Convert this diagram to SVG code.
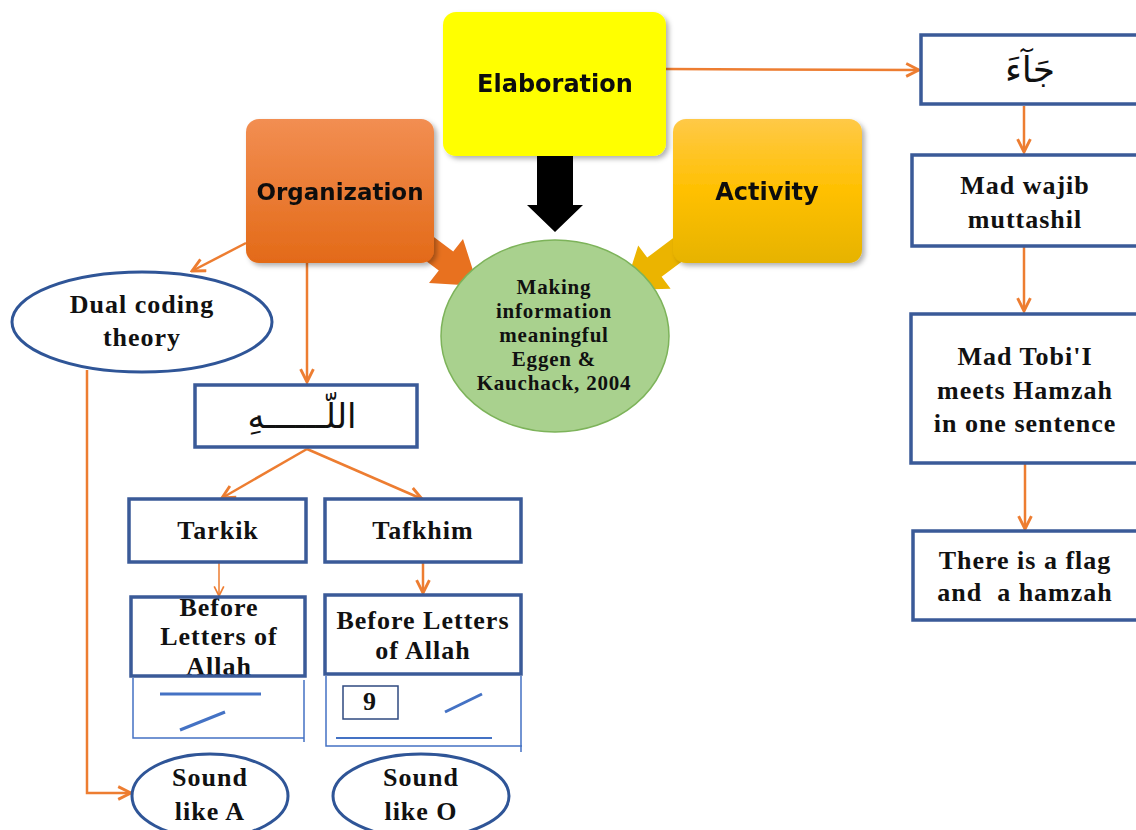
<svg xmlns="http://www.w3.org/2000/svg" width="1136" height="830" viewBox="0 0 1136 830">
<defs>
<style>
.sans{font-family:"DejaVu Sans","Liberation Sans",sans-serif;font-weight:bold;fill:#111;text-anchor:middle}
.ser{font-family:"Liberation Serif","Times New Roman",serif;font-weight:bold;fill:#111;text-anchor:middle;font-size:26px;letter-spacing:1px}
.circ{font-family:"Liberation Serif","Times New Roman",serif;font-weight:bold;fill:#111;text-anchor:middle;font-size:21px;letter-spacing:0.8px}
.ar{font-family:"DejaVu Sans","Noto Sans",sans-serif;fill:#111;text-anchor:middle}
.box{fill:#fff;stroke:#3A5A98;stroke-width:3.5}
.ell{fill:#fff;stroke:#2F5597;stroke-width:3}
.thin{fill:none;stroke:#4472C4;stroke-width:1.5}
.mark{fill:none;stroke:#4472C4;stroke-width:3}
.con{fill:none;stroke:#ED7D31;stroke-width:2.5;marker-end:url(#ah)}
.con2{fill:none;stroke:#ED7D31;stroke-width:1.5;marker-end:url(#ahs)}
</style>
<marker id="ah" viewBox="0 0 10 10" refX="9" refY="5" markerWidth="16" markerHeight="16" markerUnits="userSpaceOnUse" orient="auto">
<path d="M1,1 L9,5 L1,9" fill="none" stroke="#ED7D31" stroke-width="1.8"/>
</marker>
<marker id="ahs" viewBox="0 0 10 10" refX="9" refY="5" markerWidth="12" markerHeight="12" markerUnits="userSpaceOnUse" orient="auto">
<path d="M1,1 L9,5 L1,9" fill="none" stroke="#ED7D31" stroke-width="1.4"/>
</marker>
<linearGradient id="gOrg" x1="0" y1="0" x2="0" y2="1">
<stop offset="0" stop-color="#F28E52"/><stop offset="1" stop-color="#E36A18"/>
</linearGradient>
<linearGradient id="gAct" x1="0" y1="0" x2="0" y2="1">
<stop offset="0" stop-color="#FFC947"/><stop offset="0.5" stop-color="#FFC000"/><stop offset="1" stop-color="#E6B300"/>
</linearGradient>
<filter id="sh" x="-10%" y="-10%" width="130%" height="130%">
<feDropShadow dx="3" dy="3" stdDeviation="2.5" flood-color="#000" flood-opacity="0.3"/>
</filter>
</defs>
<rect width="1136" height="830" fill="#fff"/>

<g id="connectors">
<polygon points="537,156 573,156 573,205 583,205 555,232 527,205 537,205" fill="#000"/>
<polygon points="390.8,234.6 438.8,270.6 429,283 478,286 463,239 453.2,251.4 405.2,215.4" fill="#E8711F"/>
<polygon points="709.6,240.8 661.6,276.8 670.6,288.8 624,290 638.2,245.6 647.2,257.6 695.2,221.6" fill="#EBB400"/>
<line class="con" x1="666" y1="69" x2="919" y2="70"/>
<line class="con" x1="1024" y1="106" x2="1024" y2="152"/>
<line class="con" x1="1024" y1="247" x2="1024" y2="311"/>
<line class="con" x1="1025" y1="464" x2="1025" y2="529"/>
<line class="con" x1="246" y1="243" x2="192" y2="271"/>
<line class="con" x1="307" y1="263" x2="307" y2="382"/>
<line class="con" x1="307" y1="449" x2="222" y2="498"/>
<line class="con" x1="307" y1="449" x2="422" y2="499"/>
<line class="con2" x1="219" y1="563" x2="219" y2="596"/>
<line class="con" x1="423" y1="563" x2="423" y2="593"/>
<polyline class="con" points="87,370 87,793 131,793"/>
</g>

<g id="elaboration" filter="url(#sh)">
<rect x="443" y="12" width="223" height="144" rx="13" fill="#FFFF00"/>
<text class="sans" x="555" y="92" font-size="24">Elaboration</text>
</g>
<g id="organization" filter="url(#sh)">
<rect x="246" y="119" width="188" height="144" rx="13" fill="url(#gOrg)"/>
<text class="sans" x="340" y="200" font-size="23">Organization</text>
</g>
<g id="activity" filter="url(#sh)">
<rect x="673" y="119" width="189" height="144" rx="13" fill="url(#gAct)"/>
<text class="sans" x="767" y="200" font-size="24">Activity</text>
</g>

<g id="meaningful">
<ellipse cx="555" cy="336" rx="114" ry="96" fill="#A9D18E" stroke="#7DB35A" stroke-width="1.5"/>
<text class="circ" x="554" y="294">Making</text>
<text class="circ" x="554" y="318">information</text>
<text class="circ" x="554" y="342">meaningful</text>
<text class="circ" x="554" y="366">Eggen &amp;</text>
<text class="circ" x="554" y="390">Kauchack, 2004</text>
</g>

<g id="jaa">
<rect class="box" x="921" y="35" width="220" height="69"/>
<text class="ar" x="1030" y="82" font-size="36">جَآءَ</text>
</g>
<g id="wajib">
<rect class="box" x="912" y="155" width="229" height="91"/>
<text class="ser" x="1025" y="194">Mad wajib</text>
<text class="ser" x="1025" y="228">muttashil</text>
</g>
<g id="tobii">
<rect class="box" x="911" y="314" width="230" height="149"/>
<text class="ser" x="1025" y="365">Mad Tobi'I</text>
<text class="ser" x="1025" y="399">meets Hamzah</text>
<text class="ser" x="1025" y="432">in one sentence</text>
</g>
<g id="flag">
<rect class="box" x="913" y="531" width="228" height="89"/>
<text class="ser" x="1025" y="569">There is a flag</text>
<text class="ser" x="1025" y="601" xml:space="preserve">and  a hamzah</text>
</g>

<g id="dual">
<ellipse class="ell" cx="142" cy="322" rx="130" ry="50"/>
<text class="ser" x="142" y="313">Dual coding</text>
<text class="ser" x="142" y="346">theory</text>
</g>
<g id="allah">
<rect class="box" x="195" y="385" width="222" height="62"/>
<text class="ar" x="302" y="428" font-size="34">اللّــــــهِ</text>
</g>
<g id="tarkik">
<rect class="box" x="129" y="499" width="177" height="63"/>
<text class="ser" x="218" y="539">Tarkik</text>
</g>
<g id="tafkhim">
<rect class="box" x="325" y="499" width="196" height="63"/>
<text class="ser" x="423" y="539">Tafkhim</text>
</g>
<g id="before-left">
<text class="ser" x="219" y="616" font-size="24">Before</text>
<text class="ser" x="219" y="645" font-size="24">Letters of</text>
<text class="ser" x="219" y="675" font-size="24">Allah</text>
<rect x="131" y="597" width="174" height="79" fill="none" stroke="#3A5A98" stroke-width="3.5"/>
</g>
<g id="marks-left">
<path class="thin" d="M133,678 V738 H304 M304,680 V742"/>
<line class="mark" x1="160" y1="694" x2="261" y2="694"/>
<line class="mark" x1="180" y1="730" x2="225" y2="712"/>
</g>
<g id="before-right">
<rect class="box" x="325" y="595" width="196" height="79"/>
<text class="ser" x="423" y="629" font-size="24">Before Letters</text>
<text class="ser" x="423" y="659" font-size="24">of Allah</text>
</g>
<g id="marks-right">
<path class="thin" d="M326,676 V746 H522 M521,676 V752"/>
<rect x="343" y="686" width="55" height="33" fill="none" stroke="#2F4A80" stroke-width="1.5"/>
<text class="ser" x="370" y="710" font-size="20" letter-spacing="0">9</text>
<line class="mark" x1="445" y1="712" x2="482" y2="694"/>
<line x1="336" y1="738" x2="492" y2="738" stroke="#4472C4" stroke-width="2"/>
</g>
<g id="sound-a">
<ellipse class="ell" cx="210" cy="796" rx="78" ry="42"/>
<text class="ser" x="210" y="786" font-size="27">Sound</text>
<text class="ser" x="210" y="820" font-size="27">like A</text>
</g>
<g id="sound-o">
<ellipse class="ell" cx="421" cy="796" rx="88" ry="42"/>
<text class="ser" x="421" y="786" font-size="27">Sound</text>
<text class="ser" x="421" y="820" font-size="27">like O</text>
</g>
</svg>
